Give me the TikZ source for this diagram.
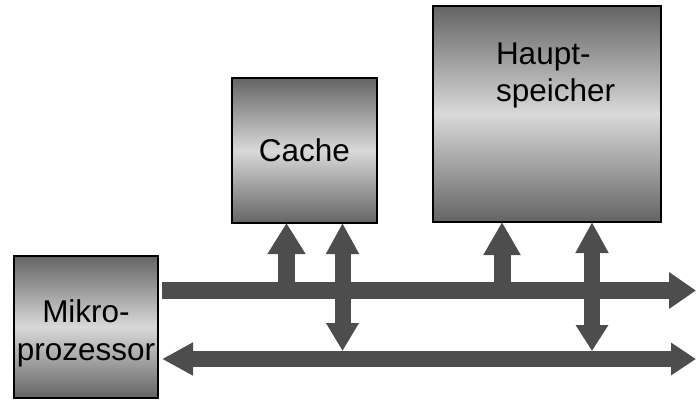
\documentclass[tikz,border=0pt]{standalone}
\usepackage{fontspec}
\setmainfont{Liberation Sans}
\usetikzlibrary{arrows.meta}
\definecolor{busgray}{HTML}{4D4D4D}
\definecolor{boxdark}{HTML}{646464}
\definecolor{boxlight}{HTML}{D9D9D9}

\begin{document}
\begin{tikzpicture}[x=1pt,y=-1pt,
  unit/.style={draw=black,line width=2pt,top color=boxdark,bottom color=boxdark,
    middle color=boxlight,inner sep=0pt,outer sep=0pt,anchor=north west},
  lbl/.style={font=\fontsize{31.5}{37.5}\selectfont,inner sep=0pt,outer sep=0pt},
  widebus/.style={draw=busgray,line width=17pt},
  narrowbus/.style={draw=busgray,line width=16pt}]
\useasboundingbox (0,0) rectangle (696,400);

% functional units
\node[unit,minimum width=144pt,minimum height=142pt] (mp) at (14,256) {};
\node[unit,minimum width=145pt,minimum height=145pt] (cache) at (232,78) {};
\node[unit,minimum width=228pt,minimum height=216pt] (hs) at (433,6) {};

% labels (base anchor sits on the last line's baseline)
\node[lbl,anchor=base,align=center] (mplabel) at (86,360) {Mikro-\\prozessor};
\node[lbl,anchor=base] (cachelabel) at (304.5,161) {Cache};
\node[lbl,anchor=base west,align=left] (hslabel) at (496,101.5) {Haupt-\\speicher};

% bus end points
\coordinate (abus start) at (162,290.5);
\coordinate (abus end) at (696,290.5);
\coordinate (dbus start) at (162,359);
\coordinate (dbus end) at (696,359);

% address bus (one-way) and data bus (two-way)
\draw[widebus,-{Triangle[width=35pt,length=27pt]}] (abus start) -- (abus end);
\draw[narrowbus,{Triangle[width=31pt,length=31pt]}-{Triangle[width=31pt,length=25pt]}]
  (dbus start) -- (dbus end);

% taps from the buses to cache and main memory
\coordinate (ca) at (286.5,290.5);
\coordinate (cd) at (342.5,351);
\coordinate (ha) at (502,290.5);
\coordinate (hd) at (592,351);

\draw[widebus,-{Triangle[width=36pt,length=31pt]}] (ca) -- (ca |- cache.south);
\draw[narrowbus,{Triangle[width=31pt,length=28pt]}-{Triangle[width=31pt,length=31pt]}]
  (cd) -- (cd |- cache.south);
\draw[widebus,-{Triangle[width=35pt,length=33pt]}] (ha) -- (ha |- hs.south);
\draw[narrowbus,{Triangle[width=31pt,length=26pt]}-{Triangle[width=31pt,length=31pt]}]
  (hd) -- (hd |- hs.south);
\end{tikzpicture}
\end{document}
